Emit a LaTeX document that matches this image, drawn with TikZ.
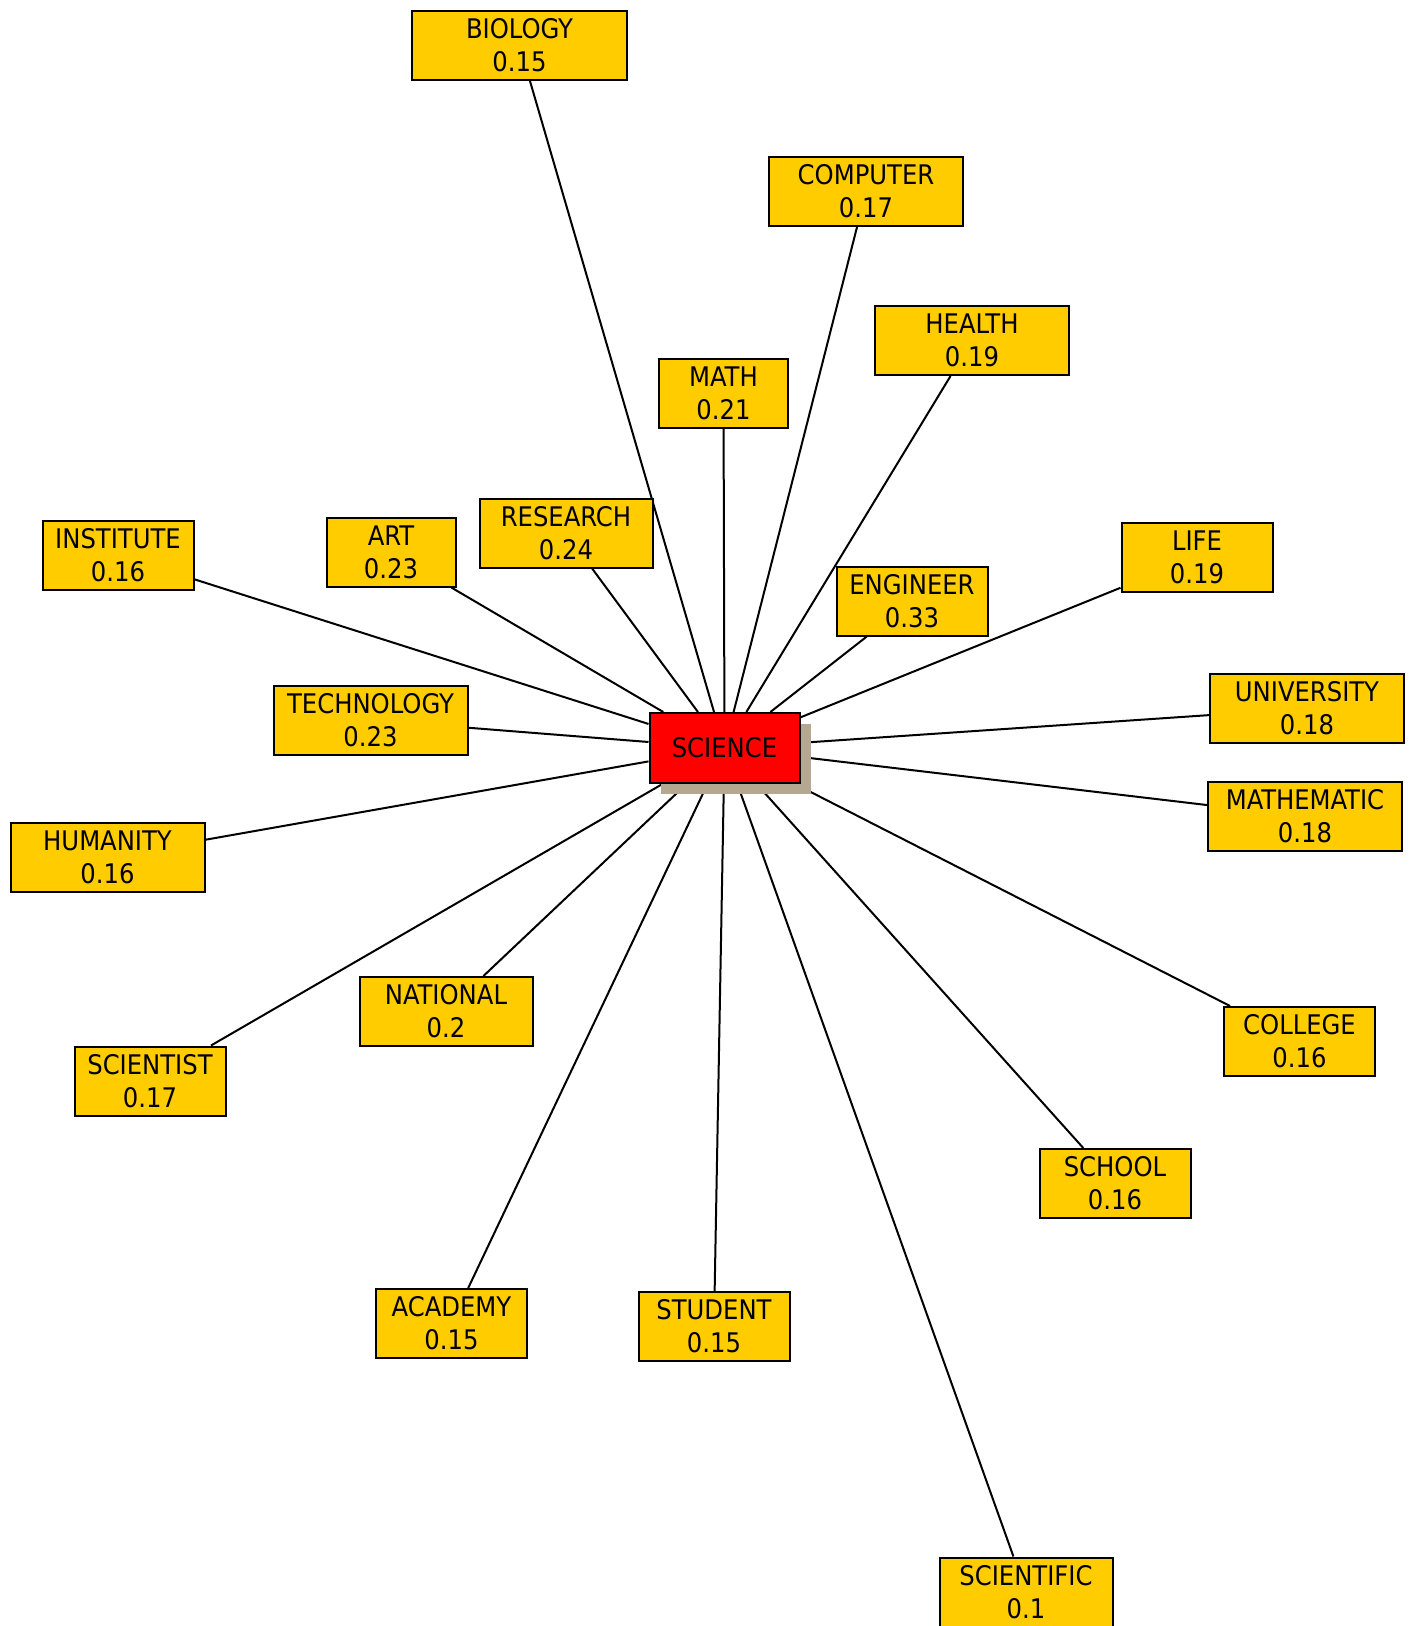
\documentclass[tikz,border=0pt]{standalone}
\usepackage{fontspec}
\setmainfont{DejaVu Sans Condensed}
\usetikzlibrary{shadows,backgrounds}
\definecolor{termfill}{HTML}{FFCC00}
\definecolor{hubfill}{HTML}{FF0000}
\definecolor{hubshade}{RGB}{181,168,147}
\tikzset{
  term/.style={draw=black, line width=2pt, fill=termfill, inner sep=0pt,
    minimum height=69pt, align=center,
    font=\fontsize{27}{33}\selectfont},
  hub/.style={term, fill=hubfill, minimum width=150pt, minimum height=70pt,
    drop shadow={shadow xshift=11pt, shadow yshift=-11pt, fill=hubshade, opacity=1}},
  wA/.style={minimum width=129pt},
  wB/.style={minimum width=151pt},
  wC/.style={minimum width=173pt},
  wD/.style={minimum width=194pt},
  wE/.style={minimum width=215pt},
  link/.style={draw=black, line width=2pt}
}
\begin{document}
\begin{tikzpicture}[x=1pt, y=-1pt]
  \useasboundingbox (0,0) rectangle (1413,1626);
  % central term
  \node[hub] (science) at (724.5,748) {SCIENCE};
  % related terms with their weights
  \node[term, wE] (biology)    at (519.5,45)    {BIOLOGY\\0.15};
  \node[term, wD] (computer)   at (866,191.5)   {COMPUTER\\0.17};
  \node[term, wD] (health)     at (972,340.5)   {HEALTH\\0.19};
  \node[term, wA] (math)       at (723.5,393)   {MATH\\0.21};
  \node[term, wC] (research)   at (566,533)     {RESEARCH\\0.24};
  \node[term, wA] (art)        at (391,552)     {ART\\0.23};
  \node[term, wB] (institute)  at (118,555)     {INSTITUTE\\0.16};
  \node[term, wB] (engineer)   at (912,601)     {ENGINEER\\0.33};
  \node[term, wB] (life)       at (1197,557)    {LIFE\\0.19};
  \node[term, wD] (technology) at (370.5,720)   {TECHNOLOGY\\0.23};
  \node[term, wD] (university) at (1307,708.5)  {UNIVERSITY\\0.18};
  \node[term, wD] (mathematic) at (1305,816.5)  {MATHEMATIC\\0.18};
  \node[term, wD] (humanity)   at (107.5,857)   {HUMANITY\\0.16};
  \node[term, wC] (national)   at (446,1011.5)  {NATIONAL\\0.2};
  \node[term, wB] (scientist)  at (150,1081)    {SCIENTIST\\0.17};
  \node[term, wB] (college)    at (1299.5,1041.5) {COLLEGE\\0.16};
  \node[term, wB] (school)     at (1115,1183.5) {SCHOOL\\0.16};
  \node[term, wB] (academy)    at (451.5,1323.5) {ACADEMY\\0.15};
  \node[term, wB] (student)    at (714,1326.5)  {STUDENT\\0.15};
  \node[term, wC] (scientific) at (1026,1592)   {SCIENTIFIC\\0.1};
  % connectors behind the boxes and the hub shadow
  \begin{pgfonlayer}{background}
    \foreach \t in {biology,computer,health,math,research,art,institute,
      engineer,life,technology,university,mathematic,humanity,national,
      scientist,college,school,academy,student,scientific}
      \draw[link] (science) -- (\t);
  \end{pgfonlayer}
\end{tikzpicture}
\end{document}
